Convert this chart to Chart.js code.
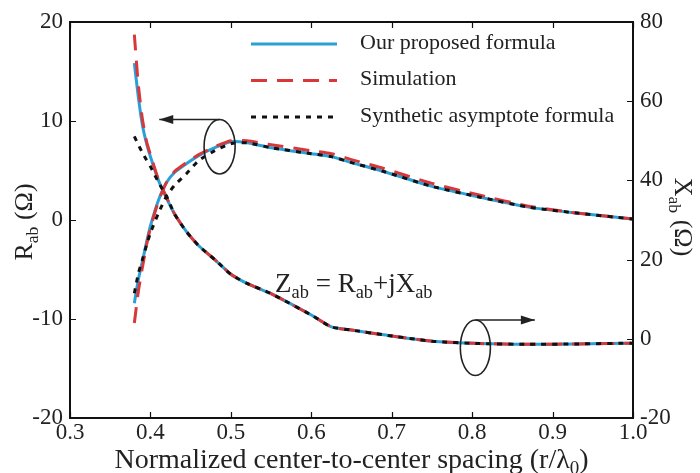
<!DOCTYPE html>
<html>
<head>
<meta charset="utf-8">
<script src="https://cdn.jsdelivr.net/npm/chart.js@4.4.0/dist/chart.umd.min.js"></script>
<style>
  html, body { margin: 0; padding: 0; background: #fff; }
  #wrap { width: 700px; height: 473px; }
</style>
</head>
<body>
<div id="wrap"><canvas id="chart" width="700" height="473"></canvas></div>
<script>
// normalized spacing r/lambda0
const spacing = [0.38, 0.385, 0.39, 0.395, 0.40, 0.41, 0.42, 0.43, 0.445, 0.46, 0.48, 0.50,
                 0.52, 0.55, 0.60, 0.625, 0.65, 0.69, 0.75, 0.81, 0.87, 0.93, 1.0];

// R_ab (left axis, ohm)
const rOurs  = [-8.4, -6.0, -4.2, -2.3, -0.6, 2.0, 3.8, 4.8, 5.7, 6.5, 7.3, 7.9,
                7.8, 7.3, 6.7, 6.4, 5.8, 4.9, 3.4, 2.3, 1.3, 0.7, 0.1];
const rSim   = [-10.4, -7.2, -4.8, -2.6, -0.8, 1.9, 3.8, 4.9, 5.8, 6.6, 7.4, 8.0,
                8.0, 7.6, 7.0, 6.7, 6.1, 5.2, 3.7, 2.5, 1.4, 0.7, 0.1];
const rSynth = [-7.4, -5.4, -4.0, -2.6, -1.3, 0.7, 2.4, 3.5, 4.7, 6.0, 7.0, 7.7,
                7.8, 7.3, 6.7, 6.4, 5.8, 4.9, 3.4, 2.3, 1.3, 0.7, 0.1];

// X_ab (right axis, ohm)
const xOurs  = [69.6, 61.0, 54.0, 49.5, 46.0, 40.0, 35.5, 31.5, 27.0, 23.5, 20.0, 16.3,
                14.0, 11.4, 6.0, 3.0, 2.2, 1.0, -0.6, -1.2, -1.4, -1.3, -1.1];
const xSim   = [76.8, 64.0, 55.5, 50.0, 46.5, 40.2, 35.8, 31.5, 27.0, 23.5, 20.0, 16.3,
                14.0, 11.4, 6.0, 3.0, 2.2, 1.0, -0.6, -1.2, -1.4, -1.3, -1.1];
const xSynth = [51.1, 49.0, 47.0, 45.2, 43.5, 39.5, 36.0, 31.5, 27.0, 23.5, 20.0, 16.3,
                14.0, 11.4, 6.0, 3.0, 2.2, 1.0, -0.6, -1.2, -1.4, -1.3, -1.1];

const seriesNames = ['Our proposed formula', 'Simulation', 'Synthetic asymptote formula'];
const spacingTicks = [0.3, 0.4, 0.5, 0.6, 0.7, 0.8, 0.9, 1.0];
const rTicks = [-20, -10, 0, 10, 20];
const xabTicks = [-20, 0, 20, 40, 60, 80];

const SERIF = '"Liberation Serif", "Times New Roman", serif';
const styles = [
  { color: '#2a9fd8', dash: [] },
  { color: '#d8383a', dash: [16, 10] },
  { color: '#111111', dash: [5, 6] }
];

const pts = (ys) => spacing.map((x, i) => ({ x: x, y: ys[i] }));

function makeSet(label, ys, axis, k) {
  return {
    label: label,
    data: pts(ys),
    yAxisID: axis,
    borderColor: styles[k].color,
    borderDash: styles[k].dash,
    borderWidth: 3,
    pointRadius: 0,
    fill: false,
    tension: 0.2,
    order: 3 - k
  };
}

// draws text with subscripts: parts = [[text, isSub], ...]
function richWidth(ctx, parts, size) {
  let w = 0;
  parts.forEach(p => {
    ctx.font = (p[1] ? size * 0.68 : size) + 'px ' + SERIF;
    w += ctx.measureText(p[0]).width;
  });
  return w;
}
function drawRich(ctx, parts, x, y, size, align) {
  let w = richWidth(ctx, parts, size);
  let cx = align === 'center' ? x - w / 2 : x;
  ctx.textAlign = 'left';
  ctx.textBaseline = 'alphabetic';
  parts.forEach(p => {
    let s = p[1] ? size * 0.68 : size;
    ctx.font = s + 'px ' + SERIF;
    ctx.fillText(p[0], cx, p[1] ? y + size * 0.22 : y);
    cx += ctx.measureText(p[0]).width;
  });
}

function arrow(ctx, x1, y1, x2, y2) {
  ctx.beginPath();
  ctx.moveTo(x1, y1);
  ctx.lineTo(x2, y2);
  ctx.stroke();
  const dir = Math.sign(x2 - x1);
  ctx.beginPath();
  ctx.moveTo(x2, y2);
  ctx.lineTo(x2 - dir * 14, y2 - 4.5);
  ctx.lineTo(x2 - dir * 14, y2 + 4.5);
  ctx.closePath();
  ctx.fill();
}

const decorations = {
  id: 'decorations',
  afterDatasetsDraw(chart) {
    const ctx = chart.ctx;
    const a = chart.chartArea;
    const sx = chart.scales.x, sy = chart.scales.y, sy1 = chart.scales.y1;
    ctx.save();

    // frame + inward ticks
    ctx.strokeStyle = '#111';
    ctx.lineWidth = 2;
    ctx.strokeRect(a.left, a.top, a.right - a.left, a.bottom - a.top);
    ctx.lineWidth = 1.2;
    ctx.beginPath();
    spacingTicks.forEach(v => {
      const px = Math.round(sx.getPixelForValue(v)) + 0.5;
      ctx.moveTo(px, a.bottom); ctx.lineTo(px, a.bottom - 6);
      ctx.moveTo(px, a.top); ctx.lineTo(px, a.top + 6);
    });
    rTicks.forEach(v => {
      const py = Math.round(sy.getPixelForValue(v)) + 0.5;
      ctx.moveTo(a.left, py); ctx.lineTo(a.left + 6, py);
    });
    xabTicks.forEach(v => {
      const py = Math.round(sy1.getPixelForValue(v)) + 0.5;
      ctx.moveTo(a.right, py); ctx.lineTo(a.right - 6, py);
    });
    ctx.stroke();

    // axis titles
    ctx.fillStyle = '#222';
    drawRich(ctx, [['Normalized center-to-center spacing (r/\u03bb', false], ['0', true], [')', false]],
      (a.left + a.right) / 2 + 0, 468, 28, 'center');
    ctx.save();
    ctx.translate(32, (a.top + a.bottom) / 2 + 2);
    ctx.rotate(-Math.PI / 2);
    drawRich(ctx, [['R', false], ['ab', true], [' (\u03a9)', false]], 0, 0, 26, 'center');
    ctx.restore();
    ctx.save();
    ctx.translate(675, (a.top + a.bottom) / 2 - 3);
    ctx.rotate(Math.PI / 2);
    drawRich(ctx, [['X', false], ['ab', true], [' (\u03a9)', false]], 0, 0, 26, 'center');
    ctx.restore();

    // legend
    const lx = a.left + 181, ly = a.top + 22;
    seriesNames.forEach((name, k) => {
      const y = ly + k * 36.5;
      ctx.strokeStyle = styles[k].color;
      ctx.setLineDash(styles[k].dash);
      ctx.lineWidth = 3;
      ctx.beginPath();
      ctx.moveTo(lx, y); ctx.lineTo(lx + 86, y);
      ctx.stroke();
      ctx.setLineDash([]);
      ctx.fillStyle = '#222';
      ctx.font = '22px ' + SERIF;
      ctx.textAlign = 'left';
      ctx.textBaseline = 'middle';
      ctx.fillText(name, lx + 109, y - 1);
    });

    // ellipse markers with arrows
    ctx.strokeStyle = '#222';
    ctx.fillStyle = '#222';
    ctx.lineWidth = 1.6;
    const marks = [
      { cx: 0.486, cy: 7.4, rx: 0.0193, ry: 2.75, tipX: 0.411 },
      { cx: 0.804, cy: -12.9, rx: 0.0187, ry: 2.8, tipX: 0.878 }
    ];
    marks.forEach(m => {
      const px = sx.getPixelForValue(m.cx), py = sy.getPixelForValue(m.cy);
      const rx = sx.getPixelForValue(m.cx + m.rx) - px;
      const ry = py - sy.getPixelForValue(m.cy + m.ry);
      ctx.beginPath();
      ctx.ellipse(px, py, rx, ry, 0, 0, Math.PI * 2);
      ctx.stroke();
      arrow(ctx, px, py - ry, sx.getPixelForValue(m.tipX), py - ry);
    });

    // impedance label
    ctx.fillStyle = '#222';
    drawRich(ctx, [['Z', false], ['ab', true], [' = R', false], ['ab', true], ['+jX', false], ['ab', true]],
      sx.getPixelForValue(0.555), sy.getPixelForValue(-7.3), 27, 'left');

    ctx.restore();
  }
};

const tickFont = { family: SERIF, size: 23 };

new Chart(document.getElementById('chart'), {
  type: 'line',
  data: {
    datasets: [
      makeSet(seriesNames[0], rOurs, 'y', 0),
      makeSet(seriesNames[1], rSim, 'y', 1),
      makeSet(seriesNames[2], rSynth, 'y', 2),
      makeSet(seriesNames[0], xOurs, 'y1', 0),
      makeSet(seriesNames[1], xSim, 'y1', 1),
      makeSet(seriesNames[2], xSynth, 'y1', 2)
    ]
  },
  options: {
    responsive: false,
    animation: false,
    maintainAspectRatio: false,
    layout: { padding: { top: 22, left: 0, right: 0, bottom: 0 } },
    plugins: { legend: { display: false }, tooltip: { enabled: false } },
    scales: {
      x: {
        type: 'linear',
        min: 0.3, max: 1.0,
        afterBuildTicks: s => { s.ticks = spacingTicks.map(v => ({ value: v })); },
        afterFit: s => { s.height = 55; },
        ticks: { font: tickFont, color: '#222', padding: 1, maxRotation: 0,
                 callback: v => Number(v).toFixed(1) },
        grid: { display: false, drawTicks: false },
        border: { display: false }
      },
      y: {
        position: 'left',
        min: -20, max: 20,
        afterBuildTicks: s => { s.ticks = rTicks.map(v => ({ value: v })); },
        afterFit: s => { s.width = 70; },
        ticks: { font: tickFont, color: '#222', padding: 7 },
        grid: { display: false, drawTicks: false },
        border: { display: false }
      },
      y1: {
        position: 'right',
        min: -20, max: 80,
        afterBuildTicks: s => { s.ticks = xabTicks.map(v => ({ value: v })); },
        afterFit: s => { s.width = 67; },
        ticks: { font: tickFont, color: '#222', padding: 7 },
        grid: { display: false, drawTicks: false },
        border: { display: false }
      }
    }
  },
  plugins: [decorations]
});
</script>
</body>
</html>
